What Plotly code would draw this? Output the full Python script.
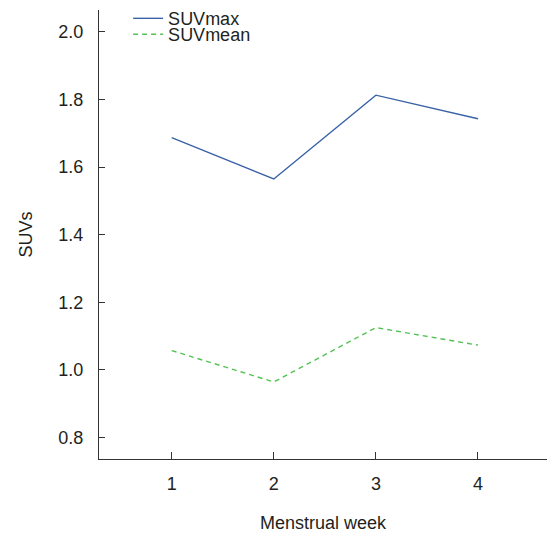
import plotly.graph_objects as go

weeks = [1, 2, 3, 4]
suv_max = [1.687, 1.565, 1.813, 1.743]
suv_mean = [1.057, 0.964, 1.125, 1.073]
y_ticks = [0.8, 1.0, 1.2, 1.4, 1.6, 1.8, 2.0]
y_tick_labels = ["0.8", "1.0", "1.2", "1.4", "1.6", "1.8", "2.0"]
x_tick_labels = ["1", "2", "3", "4"]

FONT = "Liberation Sans, Arial, sans-serif"
TXT = "#231f20"

fig = go.Figure()
fig.add_trace(go.Scatter(x=weeks, y=suv_max, mode="lines", name="SUVmax",
                         line=dict(color="#3a62a6", width=1.4), legend="legend"))
fig.add_trace(go.Scatter(x=weeks, y=suv_mean, mode="lines", name="SUVmean",
                         line=dict(color="#55c055", width=1.4, dash="5px,4px"), legend="legend2"))

legend_common = dict(font=dict(family=FONT, size=18, color=TXT), bgcolor="rgba(0,0,0,0)",
                     xref="paper", yref="paper", xanchor="left", yanchor="middle",
                     borderwidth=0, itemwidth=30)

fig.update_layout(
    width=547, height=534,
    margin=dict(l=99, r=0, t=6, b=75),
    paper_bgcolor="white", plot_bgcolor="white",
    font=dict(family=FONT, size=18, color=TXT),
    showlegend=True,
    legend=dict(**legend_common, x=0.065, y=(459 - 14.7) / 453),
    legend2=dict(**legend_common, x=0.065, y=(459 - 30.7) / 453),
    xaxis=dict(range=[0.288, 4.676], tickvals=weeks, ticktext=x_tick_labels,
               ticks="inside", ticklen=7, tickwidth=1.3, tickcolor="#333",
               showline=True, linecolor="#333", linewidth=1.3, showgrid=False, zeroline=False,
               ticklabelstandoff=8, automargin=False,
               title=dict(text="Menstrual week", standoff=23, font=dict(size=18))),
    yaxis=dict(range=[0.736, 2.065], tickvals=y_ticks, ticktext=y_tick_labels,
               ticks="inside", ticklen=6, tickwidth=1.3, tickcolor="#333",
               showline=True, linecolor="#333", linewidth=1.3, showgrid=False, zeroline=False,
               ticklabelstandoff=11, automargin=False,
               title=dict(text="SUVs", standoff=20, font=dict(size=18))),
)

fig.write_html("out.html",
               config={"displayModeBar": False},
               post_script="document.body.style.margin='0';document.body.style.overflow='hidden';")
